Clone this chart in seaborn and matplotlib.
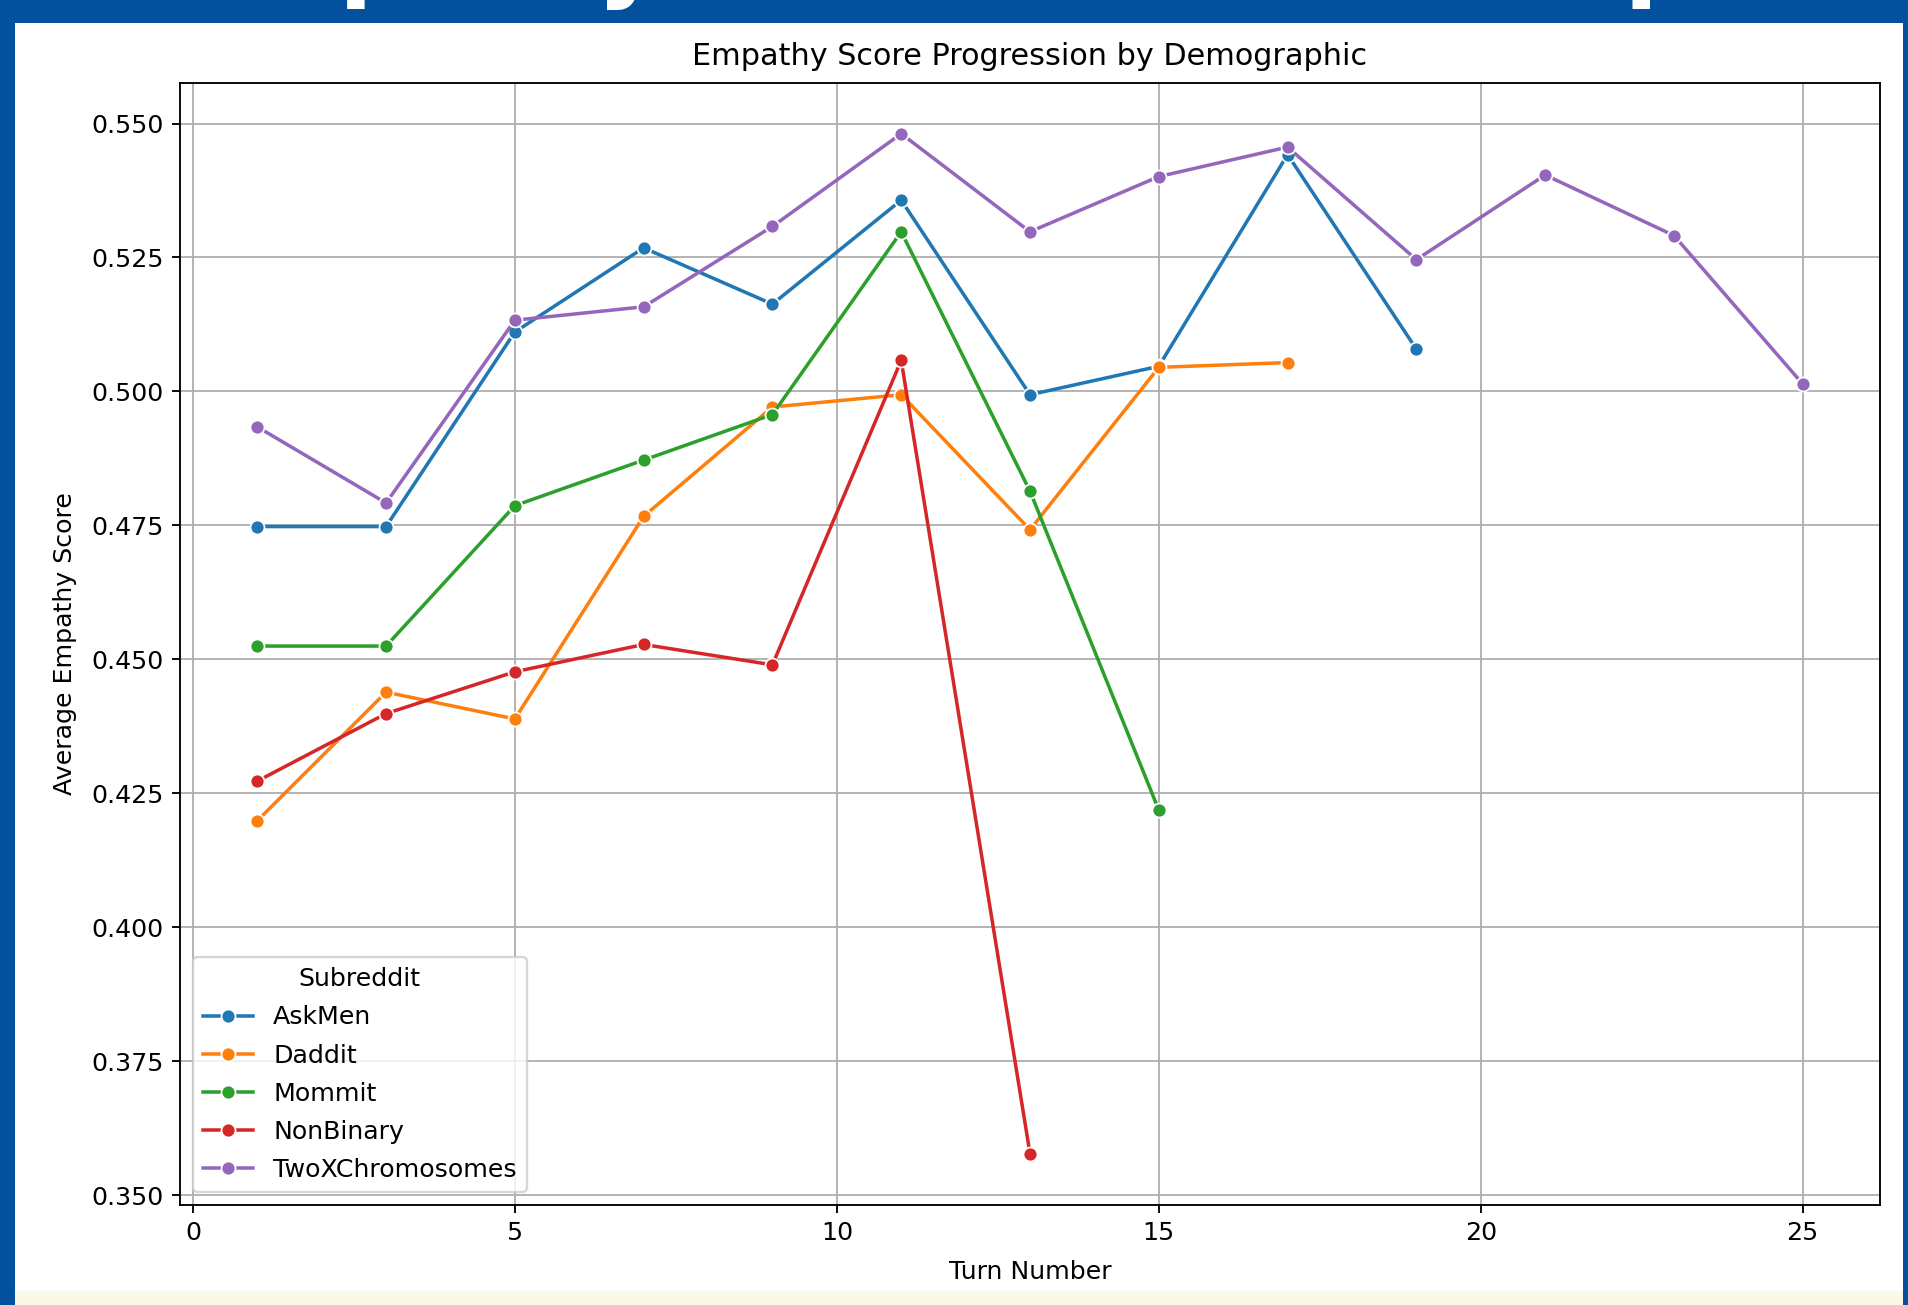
import matplotlib
matplotlib.use("Agg")
import matplotlib.pyplot as plt
from matplotlib.patches import Rectangle
import pandas as pd
import seaborn as sns

# Average empathy score per conversation turn, one series per subreddit
turns_askmen = [1, 3, 5, 7, 9, 11, 13, 15, 17, 19]
askmen = [0.4748, 0.4748, 0.5111, 0.5268, 0.5163, 0.5357, 0.4994, 0.5047, 0.5442, 0.5079]

turns_daddit = [1, 3, 5, 7, 9, 11, 13, 15, 17]
daddit = [0.4199, 0.4439, 0.4389, 0.4767, 0.4971, 0.4994, 0.4742, 0.5045, 0.5054]

turns_mommit = [1, 3, 5, 7, 9, 11, 13, 15]
mommit = [0.4525, 0.4525, 0.4787, 0.4872, 0.4957, 0.5298, 0.4814, 0.4219]

turns_nonbinary = [1, 3, 5, 7, 9, 11, 13]
nonbinary = [0.4273, 0.4399, 0.4477, 0.4528, 0.4490, 0.5058, 0.3578]

turns_twox = [1, 3, 5, 7, 9, 11, 13, 15, 17, 19, 21, 23, 25]
twox = [0.4934, 0.4792, 0.5133, 0.5158, 0.5308, 0.5481, 0.5298, 0.5401,
        0.5456, 0.5246, 0.5404, 0.5291, 0.5014]

series = [
    ("AskMen", turns_askmen, askmen),
    ("Daddit", turns_daddit, daddit),
    ("Mommit", turns_mommit, mommit),
    ("NonBinary", turns_nonbinary, nonbinary),
    ("TwoXChromosomes", turns_twox, twox),
]

rows = []
for name, xs, ys in series:
    for x, y in zip(xs, ys):
        rows.append({"Subreddit": name, "Turn": x, "Score": y})
df = pd.DataFrame(rows)

plt.rcParams["font.size"] = 10.8

W, H, DPI = 1908, 1305, 168
fig = plt.figure(figsize=(W / DPI, H / DPI), dpi=DPI)
fig.patch.set_facecolor("white")

# slide frame: blue header bar and side rails, pale strip at the bottom
blue = "#03509C"
fig.patches.append(Rectangle((0, 1 - 23 / H), 1, 23 / H, transform=fig.transFigure,
                             facecolor=blue, edgecolor="none"))
fig.patches.append(Rectangle((0, 0), 15 / W, 1, transform=fig.transFigure,
                             facecolor=blue, edgecolor="none"))
fig.patches.append(Rectangle((1903 / W, 0), 5 / W, 1, transform=fig.transFigure,
                             facecolor=blue, edgecolor="none"))
fig.patches.append(Rectangle((15 / W, 0), 1888 / W, 14.5 / H, transform=fig.transFigure,
                             facecolor="#FCF8E8", edgecolor="none"))

# slide heading, sitting mostly above the visible area
fig.text(166 / W, 1 + 12 / H, "Empathy Climbs Then Drops", color="white",
         fontsize=42.9, fontweight="bold", va="baseline", ha="left")

ax = fig.add_axes([180 / W, (H - 1204.6) / H, 1700 / W, (1204.6 - 82.7) / H])
sns.lineplot(data=df, x="Turn", y="Score", hue="Subreddit", marker="o", ax=ax)
ax.grid(True)
ax.set_title("Empathy Score Progression by Demographic", pad=7.6)
ax.set_xlabel("Turn Number", labelpad=6.4)
ax.set_ylabel("Average Empathy Score", labelpad=6.0)
ax.legend(title="Subreddit", loc="lower left", labelspacing=0.56)

fig.savefig("out.png", dpi=DPI)
